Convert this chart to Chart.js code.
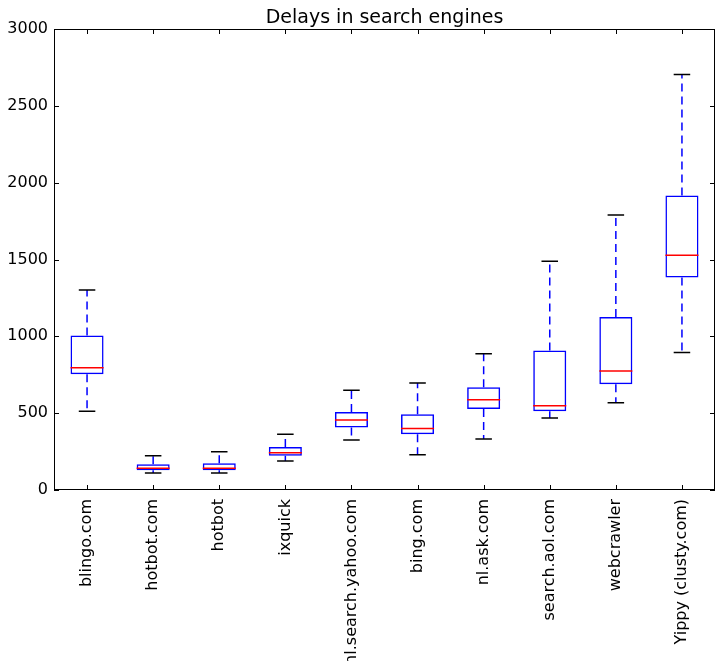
<!DOCTYPE html>
<html>
<head>
<meta charset="utf-8">
<script src="https://cdn.jsdelivr.net/npm/chart.js@4"></script>
<style>
  html, body { margin: 0; padding: 0; background: #fff; }
  #wrap { width: 716px; height: 661px; }
</style>
</head>
<body>
<div id="wrap"><canvas id="boxChart"></canvas></div>
<script>
// Box plot data
const categories = ['blingo.com', 'hotbot.com', 'hotbot', 'ixquick', 'nl.search.yahoo.com',
  'bing.com', 'nl.ask.com', 'search.aol.com', 'webcrawler', 'Yippy (clusty.com)'];
const whiskerLow = [512, 111, 111, 189, 326, 230, 332, 469, 568, 894];
const quartile1 = [753, 128, 128, 223, 406, 363, 527, 512, 688, 1383];
const medians = [796, 141, 141, 243, 456, 400, 588, 549, 775, 1528];
const quartile3 = [1005, 167, 174, 280, 508, 493, 668, 907, 1126, 1916];
const whiskerHigh = [1302, 223, 249, 363, 649, 697, 887, 1489, 1790, 2704];
const yTicks = [0, 500, 1000, 1500, 2000, 2500, 3000];
const chartTitle = 'Delays in search engines';

const FONT = 'DejaVu Sans';

// whiskers, caps, medians, frame and title drawn through the chart scales
const boxExtras = {
  id: 'boxExtras',
  afterDatasetsDraw(chart) {
    const ctx = chart.ctx;
    const x = chart.scales.x, y = chart.scales.y;
    const bars = chart.getDatasetMeta(0).data;
    ctx.save();
    categories.forEach((c, i) => {
      const cx = x.getPixelForValue(i);
      const half = bars[i].width / 2;
      const capHalf = half / 2;
      // whiskers
      ctx.strokeStyle = '#0000ff';
      ctx.lineWidth = 1.5;
      ctx.setLineDash([8, 5]);
      ctx.beginPath();
      ctx.moveTo(cx, y.getPixelForValue(quartile3[i]));
      ctx.lineTo(cx, y.getPixelForValue(whiskerHigh[i]));
      ctx.moveTo(cx, y.getPixelForValue(quartile1[i]));
      ctx.lineTo(cx, y.getPixelForValue(whiskerLow[i]));
      ctx.stroke();
      ctx.setLineDash([]);
      // caps
      ctx.strokeStyle = '#000000';
      ctx.beginPath();
      [whiskerHigh[i], whiskerLow[i]].forEach(v => {
        const py = y.getPixelForValue(v);
        ctx.moveTo(cx - capHalf, py);
        ctx.lineTo(cx + capHalf, py);
      });
      ctx.stroke();
      // median
      ctx.strokeStyle = '#ff0000';
      ctx.beginPath();
      const my = y.getPixelForValue(medians[i]);
      ctx.moveTo(cx - half, my);
      ctx.lineTo(cx + half, my);
      ctx.stroke();
    });
    ctx.restore();
  },
  afterDraw(chart) {
    const ctx = chart.ctx;
    const a = chart.chartArea;
    const x = chart.scales.x, y = chart.scales.y;
    const len = 5;
    ctx.save();
    ctx.strokeStyle = '#000';
    ctx.lineWidth = 1;
    ctx.strokeRect(a.left + 0.5, a.top + 0.5, a.right - a.left - 1, a.bottom - a.top - 1);
    ctx.beginPath();
    yTicks.forEach(v => {
      const py = Math.round(y.getPixelForValue(v)) + 0.5;
      ctx.moveTo(a.left, py); ctx.lineTo(a.left + len, py);
      ctx.moveTo(a.right, py); ctx.lineTo(a.right - len, py);
    });
    categories.forEach((c, i) => {
      const px = Math.round(x.getPixelForValue(i)) + 0.5;
      ctx.moveTo(px, a.bottom); ctx.lineTo(px, a.bottom - len);
      ctx.moveTo(px, a.top); ctx.lineTo(px, a.top + len);
    });
    ctx.stroke();
    // title centred over the plot area
    ctx.fillStyle = '#000';
    ctx.font = '19px "' + FONT + '"';
    ctx.textAlign = 'center';
    ctx.textBaseline = 'alphabetic';
    ctx.fillText(chartTitle, (a.left + a.right) / 2, 23);
    ctx.restore();
  }
};

new Chart(document.getElementById('boxChart'), {
  type: 'bar',
  data: {
    labels: categories,
    datasets: [{
      data: categories.map((c, i) => [quartile1[i], quartile3[i]]),
      backgroundColor: 'rgba(0,0,0,0)',
      borderColor: '#0000ff',
      borderWidth: 1.5,
      borderSkipped: false,
      categoryPercentage: 1,
      barPercentage: 0.5
    }]
  },
  options: {
    responsive: true,
    maintainAspectRatio: false,
    animation: false,
    layout: { padding: { left: 0, right: 1, top: 29, bottom: 0 } },
    plugins: {
      legend: { display: false },
      tooltip: { enabled: false },
      title: { display: false }
    },
    scales: {
      x: {
        grid: { display: false, drawTicks: false },
        border: { display: false },
        ticks: {
          color: '#000',
          font: { family: FONT, size: 16 },
          minRotation: 90,
          maxRotation: 90,
          autoSkip: false,
          padding: 9
        },
        afterFit: s => { s.height = 171; }
      },
      y: {
        min: 0,
        max: 3000,
        grid: { display: false, drawTicks: false },
        border: { display: false },
        ticks: {
          stepSize: 500,
          color: '#000',
          font: { family: FONT, size: 16 },
          padding: 6,
          callback: v => String(v)
        },
        afterFit: s => { s.width = 54; }
      }
    }
  },
  plugins: [boxExtras]
});
</script>
</body>
</html>
